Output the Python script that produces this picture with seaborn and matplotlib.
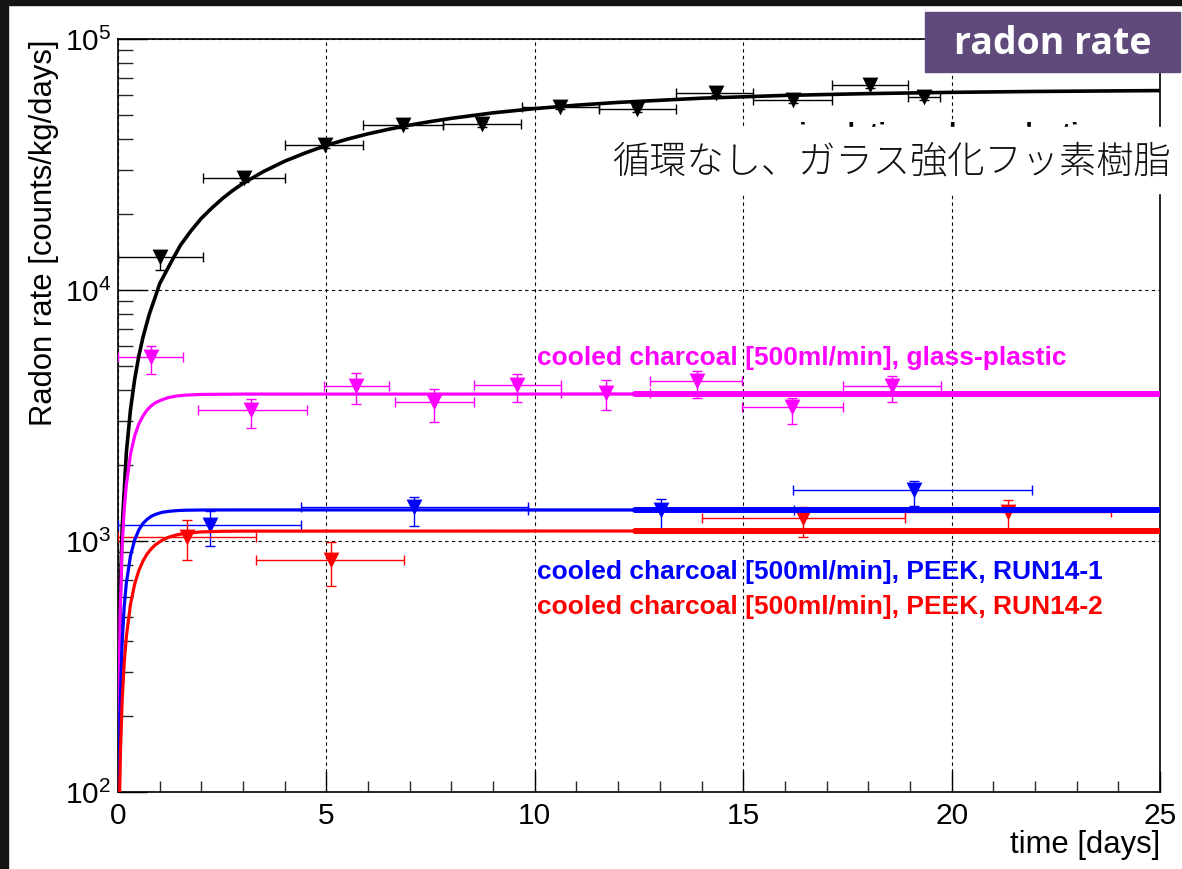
import numpy as np
import pandas as pd
import matplotlib
matplotlib.use("Agg")
import matplotlib.pyplot as plt
import seaborn as sns
from matplotlib.patches import Rectangle
from matplotlib.ticker import FixedLocator, MultipleLocator, LogLocator, NullFormatter

# ---------------- data ----------------
# fit curves (time in days, rate in counts/kg/days)
black_curve_t = [0.0, 0.02, 0.05, 0.1, 0.2, 0.3, 0.4, 0.5, 0.6, 0.75, 0.9, 1.0, 1.15, 1.3, 1.5, 1.75,
                 2.0, 2.25, 2.5, 2.75, 3.0, 3.5, 4.0, 4.5, 5.0, 5.5, 6.0, 6.5, 7.0, 7.5, 8.0, 9.0,
                 10.0, 11.0, 12.0, 14.0, 16.0, 18.0, 20.0, 22.0, 25.0]
black_curve_r = [100, 228, 569, 1133, 2246, 3338, 4410, 5463, 6490, 8000, 9450, 10600, 11800, 13150,
                 15100, 17200, 19300, 21200, 23100, 24900, 26600, 29700, 32600, 35200, 37700,
                 39900, 41900, 43700, 45400, 46900, 48300, 50800, 52800, 54500, 55900, 58100,
                 59600, 60600, 61300, 61800, 62300]

mag_curve_t = [0.0, 0.01, 0.02, 0.05, 0.1, 0.15, 0.2, 0.3, 0.4, 0.5, 0.6, 0.7, 0.8, 0.9, 1.05, 1.2,
               1.4, 1.6, 2.0, 3.0, 12.4, 25]
mag_curve_r = [100, 108, 214, 512, 957, 1342, 1676, 2216, 2622, 2928, 3150, 3329, 3460, 3556, 3650,
               3725, 3780, 3810, 3837, 3849, 3850, 3850]

blue_curve_t = [0.022, 0.03, 0.05, 0.1, 0.15, 0.2, 0.3, 0.4, 0.5, 0.6, 0.7, 0.8, 0.9, 1.05, 1.2,
                1.4, 1.6, 2.0, 3.0, 12.4, 25]
blue_curve_r = [100, 135, 217, 399, 552, 679, 874, 1011, 1107, 1175, 1221, 1255, 1277, 1300, 1312,
                1321, 1326, 1329, 1330, 1330, 1330]

red_curve_t = [0.04, 0.06, 0.1, 0.15, 0.2, 0.3, 0.4, 0.5, 0.6, 0.7, 0.8, 0.9, 1.05, 1.2, 1.4, 1.6,
               2.0, 2.5, 3.0, 12.4, 25]
red_curve_r = [100, 146, 232, 329, 415, 560, 673, 763, 833, 889, 932, 967, 1005, 1033, 1057, 1072,
               1087, 1093, 1095, 1096, 1096]

# measured points: centre, x-range, y-range
black_t = [1.0, 3.02, 4.97, 6.84, 8.73, 10.6, 12.45, 14.35, 16.2, 18.04, 19.34]
black_tlo = [0.0, 2.04, 4.0, 5.88, 7.8, 9.69, 11.54, 13.39, 15.23, 17.13, 18.95]
black_thi = [2.04, 4.0, 5.88, 7.8, 9.67, 11.54, 13.39, 15.23, 17.13, 18.95, 19.72]
black_r = [13540, 27900, 37800, 45400, 45800, 53600, 52600, 61000, 57100, 65600, 58700]
black_rlo = [12000, 27000, 36800, 44300, 44700, 52400, 51400, 59600, 55800, 64000, 57300]
black_rhi = [14100, 28800, 38800, 46500, 46900, 54800, 53800, 62400, 58400, 67200, 60100]

mag_t = [0.78, 3.2, 5.72, 7.59, 9.58, 11.7, 13.88, 16.17, 18.57]
mag_tlo = [0.0, 1.91, 4.95, 6.65, 8.53, 10.64, 12.76, 14.97, 17.4]
mag_thi = [1.57, 4.53, 6.51, 8.53, 10.64, 12.76, 14.97, 17.4, 19.74]
mag_r = [5410, 3325, 4150, 3590, 4190, 3870, 4320, 3430, 4150]
mag_rlo = [4620, 2820, 3510, 2980, 3590, 3325, 3700, 2915, 3590]
mag_rhi = [6000, 3670, 4690, 4020, 4620, 4380, 4770, 3730, 4540]

blue_t = [2.2, 7.1, 13.03, 19.09]
blue_tlo = [0.0, 4.38, 9.84, 16.19]
blue_thi = [4.38, 9.84, 16.22, 21.93]
blue_r = [1158, 1362, 1330, 1596]
blue_rlo = [957, 1148, 1119, 1378]
blue_rhi = [1320, 1493, 1466, 1735]

red_t = [1.65, 5.11, 16.44, 21.36]
red_tlo = [0.0, 3.32, 14.01, 18.87]
red_thi = [3.30, 6.87, 18.87, 23.82]
red_r = [1040, 840, 1230, 1310]
red_rlo = [840, 662, 1035, 1107]
red_rhi = [1213, 989, 1362, 1458]

x_ticks = [0, 5, 10, 15, 20, 25]
labels = {
    "black": "no circulation, glass-plastic",
    "magenta": "cooled charcoal [500ml/min], glass-plastic",
    "blue": "cooled charcoal [500ml/min], PEEK, RUN14-1",
    "red": "cooled charcoal [500ml/min], PEEK, RUN14-2",
}
jp_label = "循環なし、ガラス強化フッ素樹脂"
badge = "radon rate"

# ---------------- style ----------------
sns.set_theme(style="white")
plt.rcParams["font.family"] = ["Liberation Sans", "DejaVu Sans"]
plt.rcParams["mathtext.fontset"] = "custom"
plt.rcParams["mathtext.rm"] = "Liberation Sans"
plt.rcParams["mathtext.it"] = "Liberation Sans:italic"
plt.rcParams["mathtext.bf"] = "Liberation Sans:bold"

W, H = 1182, 869
fig = plt.figure(figsize=(W / 100, H / 100), dpi=100, facecolor="white")

def fx(px):
    return px / W

def fy(py):
    return 1 - py / H

# dark slide background strips
fig.patches.append(Rectangle((0, 0), fx(8), 1, transform=fig.transFigure, color="#141414", zorder=0))
fig.patches.append(Rectangle((0, fy(5)), 1, 1, transform=fig.transFigure, color="#141414", zorder=0))

ax = fig.add_axes([fx(118), fy(792), fx(1160 - 118), (792 - 39) / H])
ax.set_facecolor("white")

cols = {"black": "#000000", "magenta": "#ff00ff", "blue": "#0000ff", "red": "#ff0000"}

series = [
    ("black", black_t, black_tlo, black_thi, black_r, black_rlo, black_rhi),
    ("magenta", mag_t, mag_tlo, mag_thi, mag_r, mag_rlo, mag_rhi),
    ("blue", blue_t, blue_tlo, blue_thi, blue_r, blue_rlo, blue_rhi),
    ("red", red_t, red_tlo, red_thi, red_r, red_rlo, red_rhi),
]
for name, t, tlo, thi, r, rlo, rhi in series:
    t = np.array(t); r = np.array(r)
    xerr = [t - np.array(tlo), np.array(thi) - t]
    yerr = [r - np.array(rlo), np.array(rhi) - r]
    ax.errorbar(t, r, xerr=xerr, yerr=yerr, fmt="none", ecolor=cols[name], elinewidth=1.0,
                capsize=3.5, capthick=1.0, zorder=3)
    sns.scatterplot(x=t, y=r, marker="v", s=130, color=cols[name], edgecolor=cols[name],
                    linewidth=0, ax=ax, zorder=4, legend=False)

curves = [
    ("black", black_curve_t, black_curve_r, 2.6),
    ("magenta", mag_curve_t, mag_curve_r, 2.3),
    ("blue", blue_curve_t, blue_curve_r, 2.3),
    ("red", red_curve_t, red_curve_r, 2.3),
]
for name, ct, cr, lw in curves:
    df = pd.DataFrame({"t": ct, "rate": cr})
    sns.lineplot(data=df, x="t", y="rate", color=cols[name], linewidth=lw, sort=False,
                 estimator=None, ax=ax, zorder=5, legend=False)
    if name != "black":
        late = df[df["t"] >= 12.4]
        sns.lineplot(data=late, x="t", y="rate", color=cols[name], linewidth=4.3, sort=False,
                     estimator=None, ax=ax, zorder=5, legend=False)

ax.set_yscale("log")
ax.set_xlim(0, 25)
ax.set_ylim(100, 1e5)
ax.set_xlabel("")
ax.set_ylabel("")

ax.xaxis.set_major_locator(FixedLocator(x_ticks))
ax.xaxis.set_minor_locator(MultipleLocator(1))
ax.yaxis.set_major_locator(LogLocator(base=10, numticks=10))
ax.yaxis.set_minor_locator(LogLocator(base=10, subs=np.arange(2, 10), numticks=20))
ax.yaxis.set_minor_formatter(NullFormatter())

ax.tick_params(axis="x", which="major", direction="in", length=15, width=1.0, labelsize=21.5,
               pad=7, bottom=True, top=False, colors="black")
ax.tick_params(axis="x", which="minor", direction="in", length=8, width=1.0, bottom=True, top=False)
ax.tick_params(axis="y", which="major", direction="in", length=21, width=1.0, labelsize=21.5,
               pad=5, left=True, right=False, colors="black")
ax.tick_params(axis="y", which="minor", direction="in", length=11, width=1.0, left=True, right=False)

ax.grid(True, which="major", linestyle=(0, (3, 3)), color="black", linewidth=0.8)
ax.grid(False, which="minor")
for sp in ax.spines.values():
    sp.set_visible(True)
    sp.set_color("black")
    sp.set_linewidth(1.2)

# axis titles (ROOT style)
fig.text(fx(44), fy(40), "Radon rate [counts/kg/days]", rotation=90, ha="center", va="top",
         fontsize=22.3, color="black")
fig.text(fx(1160), fy(845), "time [days]", ha="right", va="center", fontsize=22.3, color="black")

# series labels
fig.text(fx(745), fy(141), labels["black"], ha="left", va="baseline", fontsize=19,
         fontweight="bold", color="black", zorder=6)
fig.text(fx(537), fy(365), labels["magenta"], ha="left", va="baseline", fontsize=19,
         fontweight="bold", color=cols["magenta"])
fig.text(fx(537), fy(579), labels["blue"], ha="left", va="baseline", fontsize=19,
         fontweight="bold", color=cols["blue"])
fig.text(fx(537), fy(614), labels["red"], ha="left", va="baseline", fontsize=19,
         fontweight="bold", color=cols["red"])

# white annotation box with Japanese caption
fig.patches.append(Rectangle((fx(600), fy(193)), fx(1182 - 600), (193 - 127) / H,
                             transform=fig.transFigure, color="white", zorder=20))
t_jp = fig.text(fx(612), fy(162), jp_label, ha="left", va="center", fontsize=26.8,
                family=["Noto Sans CJK JP", "DejaVu Sans"], fontweight="light", color="#111111")
t_jp.set_zorder(21)

# purple badge
fig.patches.append(Rectangle((fx(925), fy(72)), fx(1180 - 925), (72 - 12) / H,
                             transform=fig.transFigure, color="#5f4a7b", zorder=20))
t_b = fig.text(fx(1053), fy(44), badge, ha="center", va="center", fontsize=27,
               fontweight="bold", family=["Open Sans", "DejaVu Sans"], color="white")
t_b.set_zorder(21)

fig.savefig("out.png", dpi=100, facecolor="white")
